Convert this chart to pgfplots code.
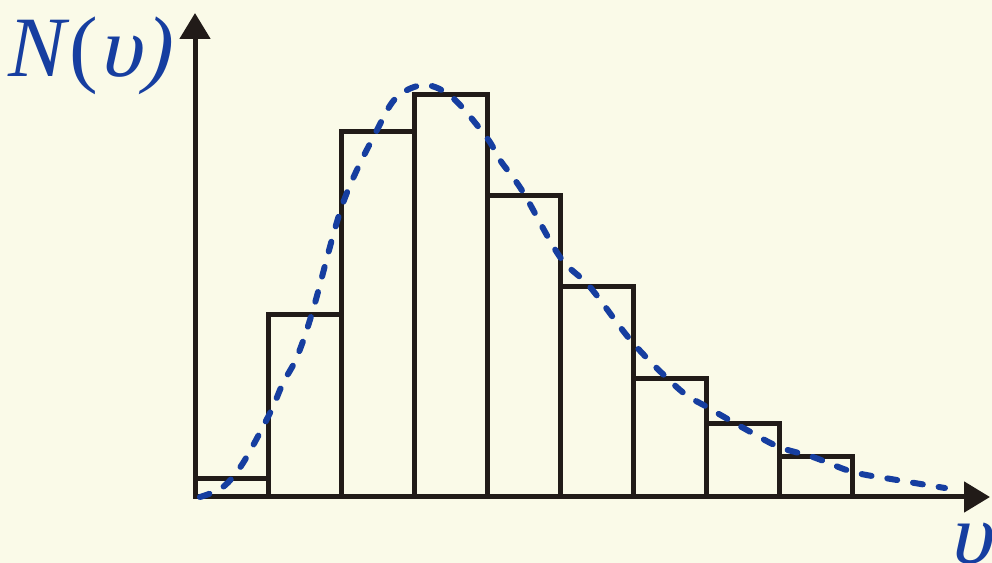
\documentclass[border=0pt]{standalone}
\usepackage{pgfplots}
\pgfplotsset{compat=1.18}
\usepackage{fontspec}
\setmainfont{Liberation Serif}
\newfontfamily\slantgreek[FakeSlant=0.22]{Liberation Serif}
\usetikzlibrary{arrows.meta}
\definecolor{paper}{RGB}{250,250,232}
\definecolor{curveblue}{RGB}{22,62,160}
\definecolor{ink}{RGB}{33,27,24}

\begin{document}
\begin{tikzpicture}
\useasboundingbox (0bp,0bp) rectangle (992bp,563bp);
\clip (0bp,0bp) rectangle (992bp,563bp);
\fill[paper] (0bp,0bp) rectangle (992bp,563bp);
\begin{axis}[
  at={(195bp,66bp)}, anchor=south west,
  scale only axis, width=795bp, height=484bp,
  xmin=0, xmax=10.876, ymin=0, ymax=121,
  enlargelimits=false, clip=false,
  axis lines=left,
  xtick=\empty, ytick=\empty,
  axis line style={ink, line width=5bp, -{Triangle[length=26bp,width=30bp]}},
  every outer x axis line/.append style={ink, line width=5bp, -{Triangle[length=26bp,width=30bp]}},
  every outer y axis line/.append style={ink, line width=5bp, -{Triangle[length=26bp,width=30bp]}},
]
% histogram of counts per speed interval
\addplot[ybar interval, draw=ink, fill=none, line width=5bp, line join=miter]
  coordinates {(0,4.5)(1,45.5)(2,91.25)(3,100.5)(4,75.25)(5,52.5)(6,29.5)(7,18.25)(8,10)(9,10)};
% smooth distribution curve
\addplot[curveblue, line width=6bp, dash pattern=on 10bp off 16bp, line cap=round, smooth, tension=0.55]
  coordinates {
  (0.068,0)(0.383,2.5)(0.657,8.5)(1.026,21)(1.204,28.5)(1.395,35)(1.614,46.75)
  (2.025,73.5)(2.490,91.75)(2.763,100)(3.146,103)(3.529,99.75)(3.995,89.75)
  (4.172,84.25)(4.487,76.25)(4.993,60)(5.404,52.5)(5.992,38.5)(6.635,26.75)
  (7.004,22.5)(7.551,16.75)(7.989,12.5)(8.454,10)(9.001,6.25)(9.603,4.25)(10.26,2.25)};
\end{axis}
\node[anchor=base west, text=curveblue, inner sep=0pt,
      font=\fontsize{86bp}{86bp}\selectfont] at (8bp,486bp) {\textit{N}(\slantgreek υ)};
\node[anchor=base west, text=curveblue, inner sep=0pt,
      font=\fontsize{86bp}{86bp}\selectfont\slantgreek] at (948bp,0bp) {υ};
\end{tikzpicture}
\end{document}
